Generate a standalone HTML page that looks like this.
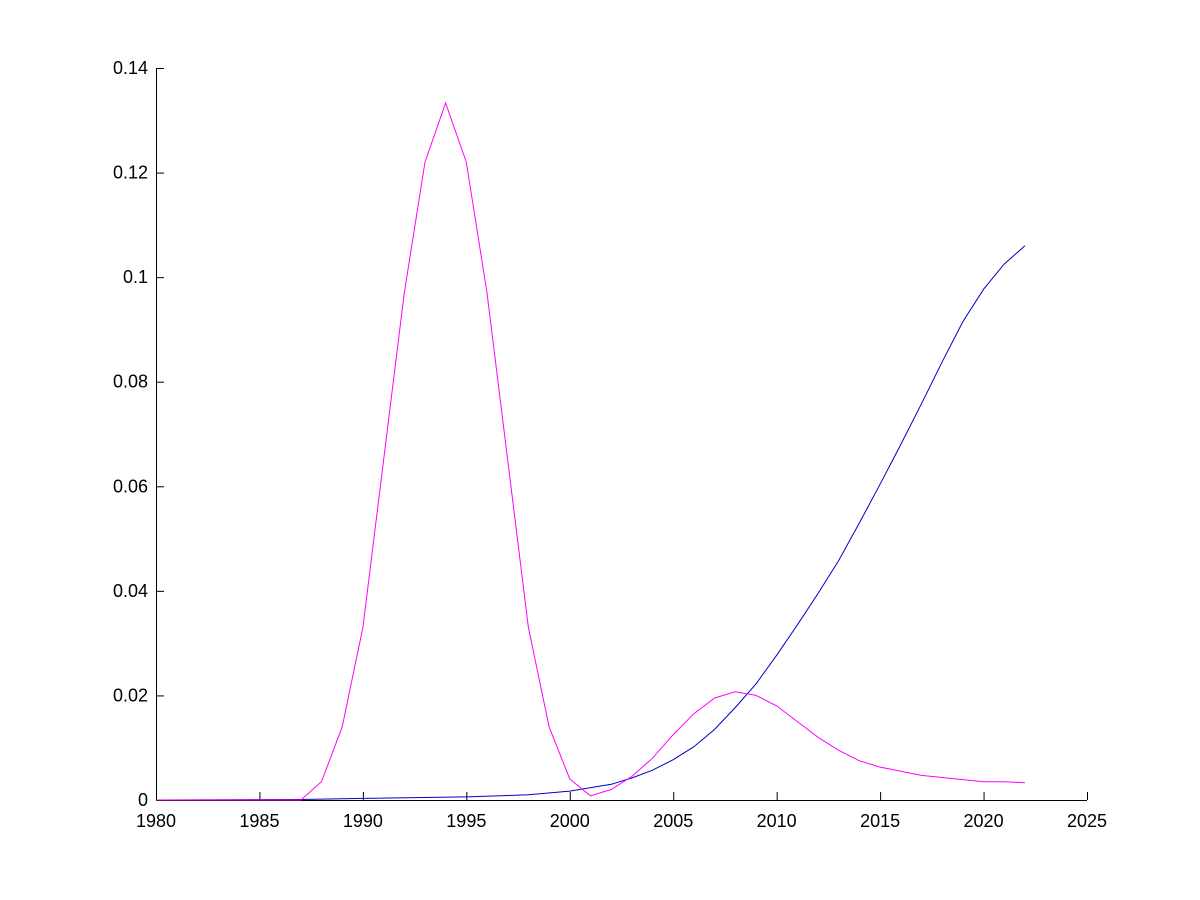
<!DOCTYPE html>
<html><head><meta charset="utf-8"><style>body{margin:0;background:#fff}svg{display:block}text{font-family:"Liberation Sans",Arial,sans-serif;font-size:18px;fill:#000}</style></head>
<body>
<svg id="s" width="1200" height="900" viewBox="0 0 1200 900" xmlns="http://www.w3.org/2000/svg">
<rect width="1200" height="900" fill="#fff"/>
<g stroke="#000" stroke-width="1" fill="none">
<line x1="156.5" y1="68" x2="156.5" y2="800.5"/>
<line x1="156" y1="800.5" x2="1087" y2="800.5"/>
</g>
<g id="ticks" stroke="#000" stroke-width="1"></g>
<g id="labels"></g>
<polyline id="blue" fill="none" stroke="#0000c8" stroke-width="1"/>
<polyline id="mag" fill="none" stroke="#ff00ff" stroke-width="1"/>
</svg>
<script>
var X=function(y){return 156+(1087-156)*(y-1980)/45;},Y=function(v){return 800-v*732/0.14;};
var t='',l='';
for(var i=0;i<=9;i++){var yr=1980+5*i,x=X(yr);t+='<line x1="'+(x+.5)+'" y1="800" x2="'+(x+.5)+'" y2="792"/>';l+='<text x="'+x+'" y="827" text-anchor="middle">'+yr+'</text>';}
var yl=['0','0.02','0.04','0.06','0.08','0.1','0.12','0.14'];
for(var j=0;j<8;j++){var y=Y(j*0.02);t+='<line x1="156" y1="'+(y+.5)+'" x2="164" y2="'+(y+.5)+'"/>';l+='<text x="148" y="'+(y+6)+'" text-anchor="end">'+yl[j]+'</text>';}
document.getElementById('ticks').innerHTML=t;document.getElementById('labels').innerHTML=l;
var m={1980:0,1987:0,1988:.0035,1989:.014,1990:.033,1991:.065,1992:.097,1993:.122,1994:.1333,1995:.122,1996:.097,1997:.065,1998:.033,1999:.014,2000:.004,2001:.0008,2002:.002,2003:.0045,2004:.008,2005:.0125,2006:.0165,2007:.0195,2008:.0207,2009:.02,2010:.018,2011:.015,2012:.012,2013:.0095,2014:.0075,2015:.0063,2016:.0055,2017:.0047,2018:.0043,2019:.0039,2020:.0035,2021:.0035,2022:.0033};
var b={1980:0,1987:0.0001,1990:.0003,1995:.0006,1998:.001,2000:.0017,2002:.003,2003:.0042,2004:.0057,2005:.0077,2006:.0102,2007:.0135,2008:.0177,2009:.0222,2010:.0277,2011:.0335,2012:.0395,2013:.0458,2014:.053,2015:.0604,2016:.068,2017:.0758,2018:.0838,2019:.0915,2020:.0977,2021:.1025,2022:.106};
function pts(d){var s=[];Object.keys(d).forEach(function(k){s.push(X(+k).toFixed(1)+','+Y(d[k]).toFixed(1));});return s.join(' ');}
document.getElementById('mag').setAttribute('points',pts(m));
document.getElementById('blue').setAttribute('points',pts(b));
</script>
</body></html>
